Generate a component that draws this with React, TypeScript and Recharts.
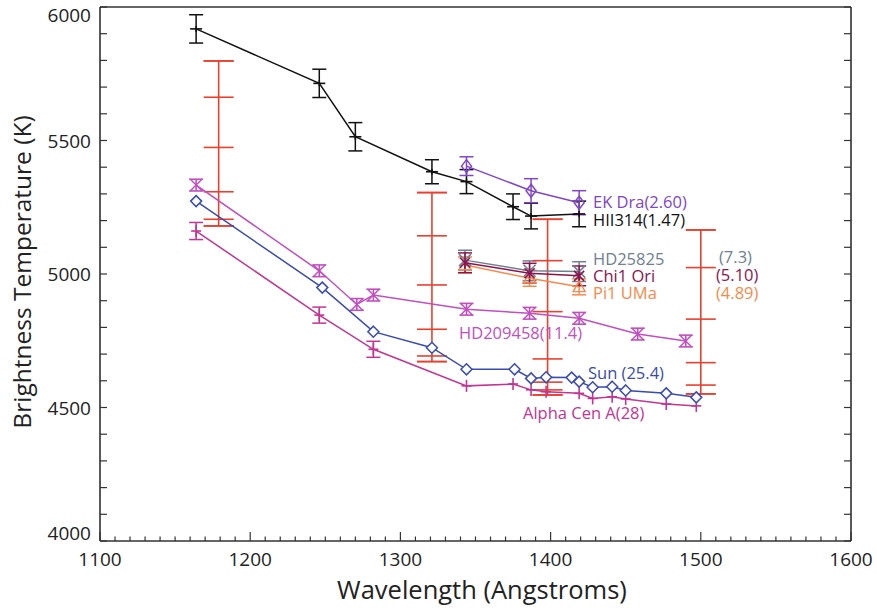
import React from "react";
import { ComposedChart, Scatter, XAxis, YAxis, ErrorBar } from "recharts";

const FONT = '"Open Sans", "Noto Sans", sans-serif';

// axis tick labels
const xMajor = [1100, 1200, 1300, 1400, 1500, 1600];
const yMajor = [4000, 4500, 5000, 5500, 6000];

// HII 314
const hiiW = [1164, 1246, 1270, 1321, 1344, 1375, 1387, 1419];
const hiiT = [5918, 5714, 5514, 5383, 5346, 5252, 5217, 5225];
const hiiE = [53, 53, 53, 45, 45, 48, 48, 48];

// EK Dra
const ekW = [1344, 1387, 1419];
const ekT = [5404, 5312, 5267];
const ekE = [35, 45, 45];

// HD25825, Chi1 Ori, Pi1 UMa
const trioW = [1343, 1386, 1419];
const hd25T = [5052, 5012, 5009];
const hd25E = [37, 37, 37];
const chiT = [5042, 5003, 4993];
const chiE = [37, 37, 37];
const piT = [5034, 4984, 4952];
const piE = [30, 30, 30];

// HD209458
const hd209W = [1164, 1246, 1271, 1282, 1344, 1386, 1419, 1458, 1490];
const hd209T = [5333, 5012, 4886, 4921, 4868, 4853, 4834, 4775, 4749];
const hd209E = [22, 22, 22, 22, 22, 22, 22, 22, 22];

// Sun
const sunW = [1164, 1248, 1282, 1321, 1344, 1376, 1387, 1397, 1414, 1419, 1428, 1441, 1450, 1477, 1497];
const sunT = [5273, 4949, 4784, 4724, 4643, 4643, 4609, 4613, 4612, 4597, 4576, 4578, 4564, 4553, 4538];

// Alpha Cen A
const acenW = [1164, 1246, 1282, 1344, 1375, 1387, 1397, 1419, 1428, 1441, 1450, 1477, 1497];
const acenT = [5161, 4846, 4718, 4581, 4588, 4566, 4559, 4553, 4534, 4540, 4532, 4513, 4506];
const acenErrW = [1164, 1246, 1282];
const acenErrT = [5161, 4846, 4718];
const acenErrE = [32, 30, 30];

// red range bars
const redW = [1179, 1321, 1398, 1500];
const redLevels = [
  [5798, 5662, 5474, 5308, 5205, 5180],
  [5305, 5143, 4959, 4793, 4693, 4672],
  [5205, 5050, 4859, 4682, 4595, 4566, 4547],
  [5165, 5024, 4831, 4668, 4584, 4551],
];

const C_HII = "#111111";
const C_EK = "#8046c4";
const C_HD25 = "#6f8090";
const C_CHI = "#8b1450";
const C_PI = "#f7894b";
const C_HD209 = "#c04fbf";
const C_SUN = "#3a4caf";
const C_ACEN = "#c23593";
const C_RED = "#e8402f";

type Pt = { w: number; t: number; e?: number };
const pts = (w: number[], t: number[], e?: number[]): Pt[] =>
  w.map((x, i) => ({ w: x, t: t[i], e: e ? e[i] : undefined }));

const redRanges = redW.map((w, i) => {
  const lo = Math.min(...redLevels[i]);
  const hi = Math.max(...redLevels[i]);
  return { w, t: (lo + hi) / 2, e: (hi - lo) / 2 };
});
const redTicks = redW.flatMap((w, i) => redLevels[i].map((t) => ({ w, t })));

const xTicks = Array.from({ length: 51 }, (_, i) => 1100 + i * 10);
const yTicks = Array.from({ length: 21 }, (_, i) => 4000 + i * 100);

// markers
const plus = (color: string, h: number, v: number) => (p: any) => (
  <g stroke={color} strokeWidth={1.6}>
    <line x1={p.cx - h} x2={p.cx + h} y1={p.cy} y2={p.cy} />
    <line x1={p.cx} x2={p.cx} y1={p.cy - v} y2={p.cy + v} />
  </g>
);
const diamond = (color: string, hw: number, hh: number, fill: string) => (p: any) => (
  <path
    d={`M${p.cx},${p.cy - hh}L${p.cx + hw},${p.cy}L${p.cx},${p.cy + hh}L${p.cx - hw},${p.cy}Z`}
    fill={fill}
    stroke={color}
    strokeWidth={1.5}
  />
);
const cross = (color: string, r: number) => (p: any) => (
  <g stroke={color} strokeWidth={1.5}>
    <line x1={p.cx - r} x2={p.cx + r} y1={p.cy - r} y2={p.cy + r} />
    <line x1={p.cx - r} x2={p.cx + r} y1={p.cy + r} y2={p.cy - r} />
  </g>
);
const star = (color: string, r: number) => (p: any) => (
  <g stroke={color} strokeWidth={1.6}>
    <line x1={p.cx - r} x2={p.cx + r} y1={p.cy - r} y2={p.cy + r} />
    <line x1={p.cx - r} x2={p.cx + r} y1={p.cy + r} y2={p.cy - r} />
    <line x1={p.cx} x2={p.cx} y1={p.cy - r} y2={p.cy + r} />
  </g>
);
const triangle = (color: string, r: number) => (p: any) => (
  <path
    d={`M${p.cx},${p.cy - r}L${p.cx + r},${p.cy + r * 0.8}L${p.cx - r},${p.cy + r * 0.8}Z`}
    fill="none"
    stroke={color}
    strokeWidth={1.4}
  />
);
const dash = (color: string, hw: number) => (p: any) => (
  <line x1={p.cx - hw} x2={p.cx + hw} y1={p.cy} y2={p.cy} stroke={color} strokeWidth={1.6} />
);
const none = () => <g />;

// axis ticks (drawn inward, IDL style)
const BottomTick = ({ x, y, payload }: any) => {
  const v = payload.value;
  const major = xMajor.includes(v);
  return (
    <g>
      <line x1={x} x2={x} y1={y} y2={y - (major ? 9 : 4.5)} stroke="#333" strokeWidth={1.2} />
      {major && (
        <text x={x} y={y + 25} textAnchor="middle" fontSize={19} fill="#222" fontFamily={FONT}>
          {v}
        </text>
      )}
    </g>
  );
};
const TopTick = ({ x, y, payload }: any) => {
  const major = xMajor.includes(payload.value);
  return <line x1={x} x2={x} y1={y} y2={y + (major ? 9 : 4.5)} stroke="#333" strokeWidth={1.2} />;
};
const LeftTick = ({ x, y, payload }: any) => {
  const v = payload.value;
  const major = yMajor.includes(v);
  const ly = Math.min(Math.max(y, 15), 533);
  return (
    <g>
      <line x1={x} x2={x + 7} y1={y} y2={y} stroke="#333" strokeWidth={1.2} />
      {major && (
        <text x={x - 9} y={ly + 7} textAnchor="end" fontSize={19} fill="#222" fontFamily={FONT}>
          {v}
        </text>
      )}
    </g>
  );
};
const RightTick = ({ x, y }: any) => (
  <line x1={x} x2={x - 7} y1={y} y2={y} stroke="#333" strokeWidth={1.2} />
);

const lbl = (text: string, x: number, y: number, color: string) => (
  <text x={x} y={y} fill={color} fontSize={16.5} fontFamily={FONT}>
    {text}
  </text>
);

export default function App() {
  return (
    <div style={{ position: "absolute", left: 0, top: 0, width: 877, height: 608, background: "#fff" }}>
      <ComposedChart width={877} height={608} margin={{ top: 6, right: 25, bottom: 1, left: 0 }}>
        <XAxis
          xAxisId={0}
          dataKey="w"
          type="number"
          domain={[1100, 1600]}
          allowDataOverflow
          ticks={xTicks}
          interval={0}
          height={66}
          tickSize={0}
          tickMargin={0}
          tickLine={false}
          tick={BottomTick}
          axisLine={{ stroke: "#666", strokeWidth: 2 }}
        />
        <XAxis
          xAxisId="top"
          orientation="top"
          type="number"
          domain={[1100, 1600]}
          allowDataOverflow
          ticks={xTicks}
          interval={0}
          height={1}
          tickSize={0}
          tickMargin={0}
          tickLine={false}
          tick={TopTick}
          axisLine={{ stroke: "#666", strokeWidth: 2 }}
        />
        <YAxis
          yAxisId={0}
          dataKey="t"
          type="number"
          domain={[4000, 6000]}
          allowDataOverflow
          ticks={yTicks}
          interval={0}
          width={100}
          tickSize={0}
          tickMargin={0}
          tickLine={false}
          tick={LeftTick}
          axisLine={{ stroke: "#222", strokeWidth: 1.5 }}
        />
        <YAxis
          yAxisId="right"
          orientation="right"
          type="number"
          domain={[4000, 6000]}
          allowDataOverflow
          ticks={yTicks}
          interval={0}
          width={1}
          tickSize={0}
          tickMargin={0}
          tickLine={false}
          tick={RightTick}
          axisLine={{ stroke: "#222", strokeWidth: 1.5 }}
        />

        {/* red range bars */}
        <Scatter data={redRanges} shape={none} isAnimationActive={false}>
          <ErrorBar dataKey="e" direction="y" width={15} stroke={C_RED} strokeWidth={1.6} isAnimationActive={false} />
        </Scatter>
        <Scatter data={redTicks} shape={dash(C_RED, 15)} isAnimationActive={false} />

        {/* Alpha Cen A */}
        <Scatter
          data={pts(acenW, acenT)}
          line={{ stroke: C_ACEN, strokeWidth: 1.5 }}
          lineType="joint"
          shape={plus(C_ACEN, 5, 6)}
          isAnimationActive={false}
        />
        <Scatter data={pts(acenErrW, acenErrT, acenErrE)} shape={none} isAnimationActive={false}>
          <ErrorBar dataKey="e" direction="y" width={7} stroke={C_ACEN} strokeWidth={1.5} isAnimationActive={false} />
        </Scatter>

        {/* Sun */}
        <Scatter
          data={pts(sunW, sunT)}
          line={{ stroke: C_SUN, strokeWidth: 1.5 }}
          lineType="joint"
          shape={diamond(C_SUN, 5.5, 5.5, "#fff")}
          isAnimationActive={false}
        />

        {/* HD209458 */}
        <Scatter
          data={pts(hd209W, hd209T, hd209E)}
          line={{ stroke: C_HD209, strokeWidth: 1.5 }}
          lineType="joint"
          shape={cross(C_HD209, 6)}
          isAnimationActive={false}
        >
          <ErrorBar dataKey="e" direction="y" width={7} stroke={C_HD209} strokeWidth={1.6} isAnimationActive={false} />
        </Scatter>

        {/* Pi1 UMa */}
        <Scatter
          data={pts(trioW, piT, piE)}
          line={{ stroke: C_PI, strokeWidth: 1.5 }}
          lineType="joint"
          shape={triangle(C_PI, 6)}
          isAnimationActive={false}
        >
          <ErrorBar dataKey="e" direction="y" width={7} stroke={C_PI} strokeWidth={1.5} isAnimationActive={false} />
        </Scatter>

        {/* HD25825 */}
        <Scatter
          data={pts(trioW, hd25T, hd25E)}
          line={{ stroke: C_HD25, strokeWidth: 1.5 }}
          lineType="joint"
          shape={cross(C_HD25, 6)}
          isAnimationActive={false}
        >
          <ErrorBar dataKey="e" direction="y" width={7} stroke={C_HD25} strokeWidth={1.5} isAnimationActive={false} />
        </Scatter>

        {/* Chi1 Ori */}
        <Scatter
          data={pts(trioW, chiT, chiE)}
          line={{ stroke: C_CHI, strokeWidth: 1.5 }}
          lineType="joint"
          shape={star(C_CHI, 5)}
          isAnimationActive={false}
        >
          <ErrorBar dataKey="e" direction="y" width={7} stroke={C_CHI} strokeWidth={1.5} isAnimationActive={false} />
        </Scatter>

        {/* HII 314 */}
        <Scatter
          data={pts(hiiW, hiiT, hiiE)}
          line={{ stroke: C_HII, strokeWidth: 1.5 }}
          lineType="joint"
          shape={plus(C_HII, 6, 3)}
          isAnimationActive={false}
        >
          <ErrorBar dataKey="e" direction="y" width={7} stroke={C_HII} strokeWidth={1.5} isAnimationActive={false} />
        </Scatter>

        {/* EK Dra */}
        <Scatter
          data={pts(ekW, ekT, ekE)}
          line={{ stroke: C_EK, strokeWidth: 1.5 }}
          lineType="joint"
          shape={diamond(C_EK, 5, 6.5, "none")}
          isAnimationActive={false}
        >
          <ErrorBar dataKey="e" direction="y" width={7} stroke={C_EK} strokeWidth={1.5} isAnimationActive={false} />
        </Scatter>
      </ComposedChart>

      <svg
        width={877}
        height={608}
        style={{ position: "absolute", left: 0, top: 0, pointerEvents: "none" }}
      >
        {lbl("EK Dra(2.60)", 593, 208, C_EK)}
        {lbl("HII314(1.47)", 593, 226, C_HII)}
        {lbl("HD25825", 593, 265, C_HD25)}
        {lbl("Chi1 Ori", 593, 282, C_CHI)}
        {lbl("Pi1 UMa", 593, 299, C_PI)}
        {lbl("(7.3)", 719, 263, C_HD25)}
        {lbl("(5.10)", 716, 281, C_CHI)}
        {lbl("(4.89)", 716, 299, C_PI)}
        {lbl("HD209458(11.4)", 459, 339, C_HD209)}
        {lbl("Sun (25.4)", 588, 379, C_SUN)}
        {lbl("Alpha Cen A(28)", 523, 419, C_ACEN)}
        <text x={482} y={599} textAnchor="middle" fontSize={25.5} fill="#222" fontFamily={FONT}>
          Wavelength (Angstroms)
        </text>
        <text
          x={31}
          y={272}
          transform="rotate(-90 31 272)"
          textAnchor="middle"
          fontSize={24.5}
          fill="#222"
          fontFamily={FONT}
        >
          Brightness Temperature (K)
        </text>
      </svg>
    </div>
  );
}
